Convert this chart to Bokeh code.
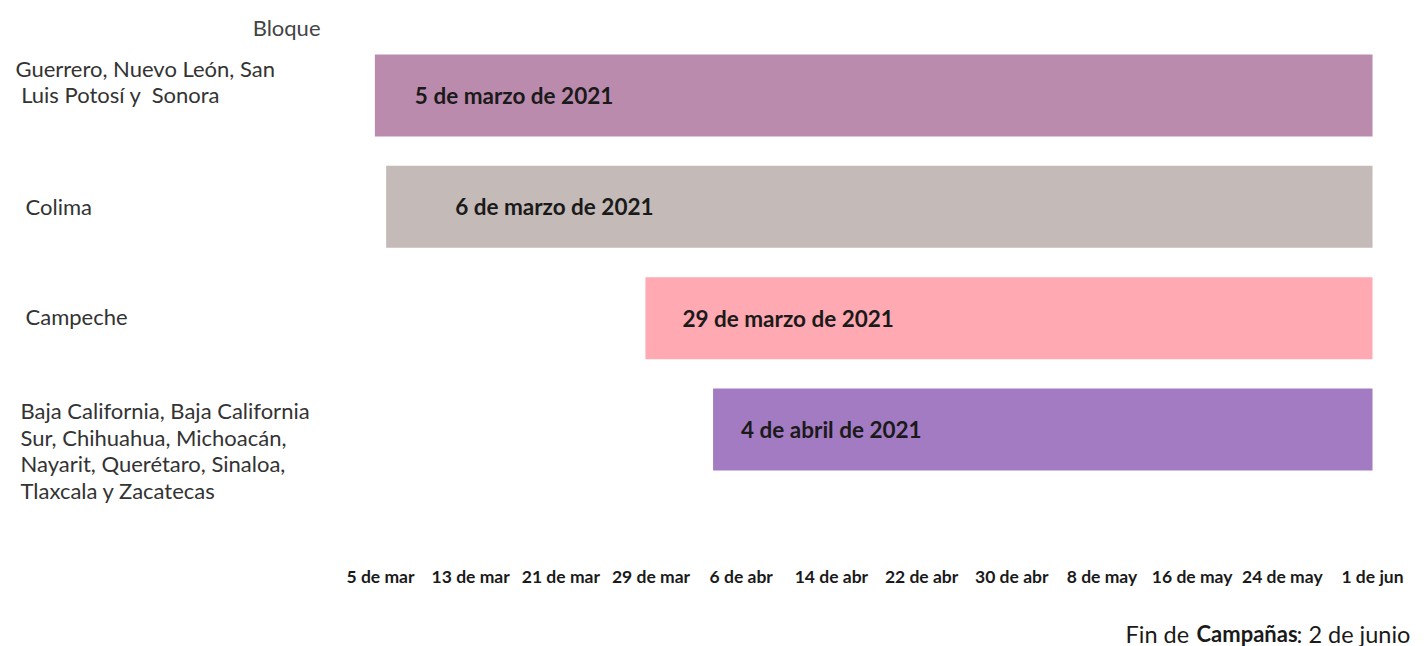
import datetime as dt
from bokeh.plotting import figure
from bokeh.layouts import column
from bokeh.models import ColumnDataSource, Range1d, FixedTicker
from bokeh.core.properties import value
from bokeh.embed import file_html
from bokeh.resources import INLINE

# ---- data ----
bloques = [
    "Guerrero, Nuevo León, San\n\u00a0Luis Potosí y \u00a0Sonora",
    "Colima",
    "Campeche",
    "Baja California, Baja California\nSur, Chihuahua, Michoacán,\nNayarit, Querétaro, Sinaloa,\nTlaxcala y Zacatecas",
]
inicio = ["2021-03-05", "2021-03-06", "2021-03-29", "2021-04-04"]
etiquetas = ["5 de marzo de 2021", "6 de marzo de 2021", "29 de marzo de 2021", "4 de abril de 2021"]
fin = "2021-06-01"
colores = ["#BA8BAD", "#C4BAB8", "#FFA9B2", "#A37BC3"]
tick_fechas = ["2021-03-05", "2021-03-13", "2021-03-21", "2021-03-29", "2021-04-06", "2021-04-14",
               "2021-04-22", "2021-04-30", "2021-05-08", "2021-05-16", "2021-05-24", "2021-06-01"]
tick_textos = ["5 de mar", "13 de mar", "21 de mar", "29 de mar", "6 de abr", "14 de abr",
               "22 de abr", "30 de abr", "8 de may", "16 de may", "24 de may", "1 de jun"]
nota_partes = ["Fin de", "Campañas", ": 2 de junio"]
nota_estilos = ["normal", "bold", "normal"]

# ---- styling offsets (px) ----
label_pad = [40, 69, 37, 28]
cat_x = [15, 25, 25, 20]
cat_dy = [-14, 0, -2, 21]
nota_x = [1125, 1196, 1296]
nota_size = ["23.5px", "22px", "23.5px"]

origen = dt.date(2021, 3, 5)
def dias(s):
    return (dt.date.fromisoformat(s) - origen).days

W = 1425
x_start, x_end = -33.71, 92.70
ys = list(range(len(bloques)))
izq = [dias(s) - 0.5 for s in inicio]
der = [dias(fin)] * len(inicio)

src = ColumnDataSource(dict(y=ys, left=izq, right=der, color=colores, etiqueta=etiquetas,
                            bloque=bloques, pad=label_pad, cx=[x_start] * len(ys),
                            cxo=cat_x, cdy=cat_dy))

p = figure(width=W, height=610, x_range=Range1d(x_start, x_end), y_range=Range1d(4.1497, -0.8533),
           output_backend="svg", toolbar_location=None, y_axis_location=None,
           min_border_left=0, min_border_right=0, min_border_top=0, min_border_bottom=53)
p.xgrid.visible = False
p.ygrid.visible = False
p.outline_line_color = None

p.hbar(y="y", left="left", right="right", height=0.737, color="color", line_color=None, source=src)

p.text(x="left", y="y", text="etiqueta", x_offset="pad", source=src,
       text_font=value("Lato"), text_font_style="bold", text_font_size="22.5px",
       text_color="#1a1a1a", text_baseline="middle", text_align="left")

p.text(x="cx", y="y", text="bloque", x_offset="cxo", y_offset="cdy", source=src,
       text_font=value("Lato"), text_font_size="22px", text_line_height=0.98,
       text_color="#333333", text_baseline="middle", text_align="left")

p.text(x=[x_start], y=[-0.6108], text=["Bloque"], x_offset=320,
       text_font=value("Lato"), text_font_size="22px",
       text_color="#444444", text_baseline="middle", text_align="right")

tick_pos = [dias(s) for s in tick_fechas]
p.xaxis.ticker = FixedTicker(ticks=tick_pos)
p.xaxis.major_label_overrides = {t: l for t, l in zip(tick_pos, tick_textos)}
p.xaxis.axis_line_color = None
p.xaxis.major_tick_line_color = None
p.xaxis.minor_tick_line_color = None
p.xaxis.major_tick_out = 0
p.xaxis.major_tick_in = 0
p.xaxis.major_label_standoff = 8
p.xaxis.major_label_text_font = "Lato"
p.xaxis.major_label_text_font_style = "bold"
p.xaxis.major_label_text_font_size = "17.5px"
p.xaxis.major_label_text_color = "#1a1a1a"

# footer note
p2 = figure(width=W, height=36, x_range=Range1d(0, W), y_range=Range1d(36, 0),
            output_backend="svg", toolbar_location=None, x_axis_location=None, y_axis_location=None,
            min_border_left=0, min_border_right=0, min_border_top=0, min_border_bottom=0)
p2.xgrid.visible = False
p2.ygrid.visible = False
p2.outline_line_color = None
for txt, xx, st, sz in zip(nota_partes, nota_x, nota_estilos, nota_size):
    p2.text(x=[xx], y=[23], text=[txt], text_font=value("Lato"), text_font_size=sz,
            text_font_style=st, text_color="#1a1a1a", text_baseline="middle", text_align="left")

open("out.html", "w").write(file_html(column(p, p2, spacing=0), INLINE))
